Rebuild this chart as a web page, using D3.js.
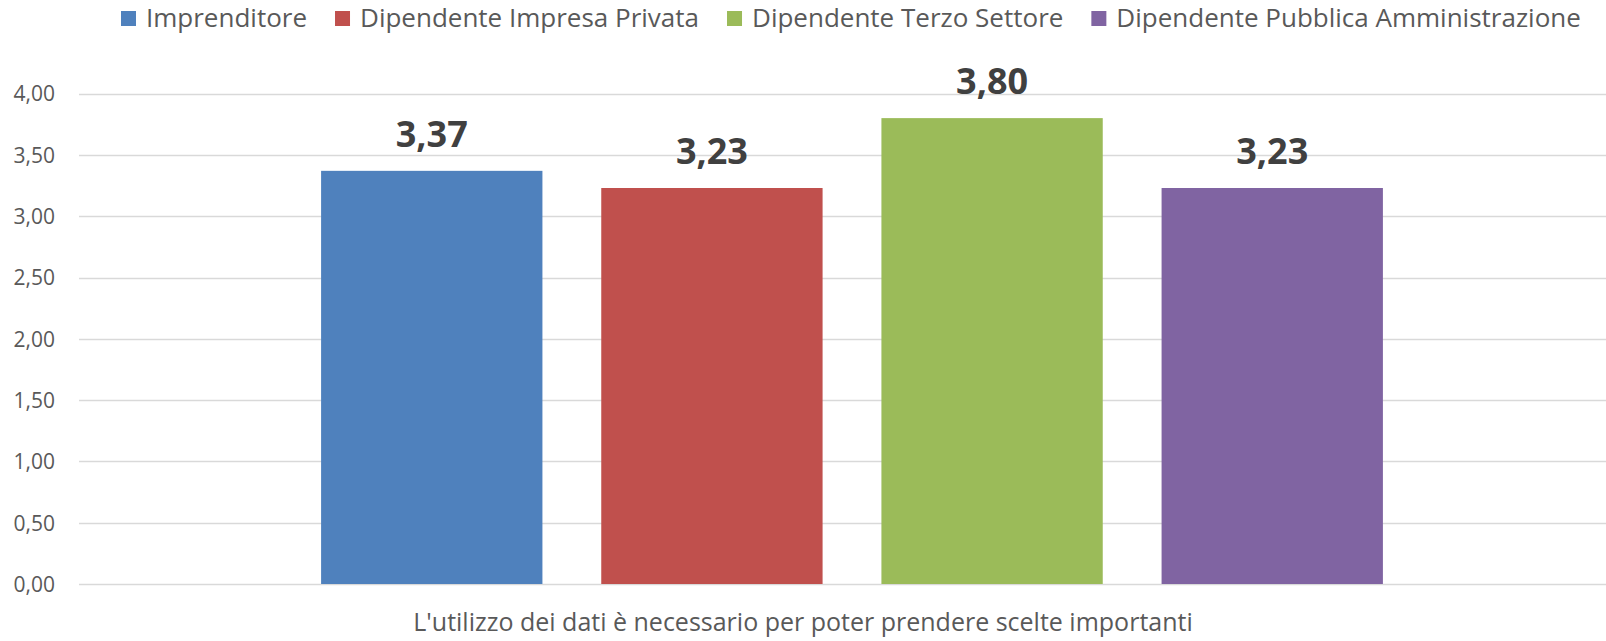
<!DOCTYPE html>
<html>
<head>
<meta charset="utf-8">
<script src="https://cdn.jsdelivr.net/npm/d3@7"></script>
<style>
  body { margin: 0; background: #fff; }
  svg text { font-family: "Open Sans", sans-serif; }
</style>
</head>
<body>
<div id="chart"></div>
<script>
// data
var categories = ["L'utilizzo dei dati è necessario per poter prendere scelte importanti"];
var series = ["Imprenditore", "Dipendente Impresa Privata", "Dipendente Terzo Settore", "Dipendente Pubblica Amministrazione"];
var values = [3.37, 3.23, 3.80, 3.23];
var colors = ["#4F81BD", "#C0504D", "#9BBB59", "#8064A2"];
var yTicks = [0, 0.5, 1, 1.5, 2, 2.5, 3, 3.5, 4];

var width = 1606, height = 641;
var fmt = function(v) { return d3.format(".2f")(v).replace(".", ","); };

var svg = d3.select("#chart").append("svg")
    .attr("width", width)
    .attr("height", height);

var y = d3.scaleLinear().domain([0, 4]).range([584, 93.6]);

var x0 = d3.scaleBand()
    .domain(categories)
    .range([79, 1625])
    .paddingInner(0)
    .paddingOuter(0.228);

var x1 = d3.scaleBand()
    .domain(series)
    .range([0, x0.bandwidth()])
    .paddingInner(0.21)
    .paddingOuter(0);

// gridlines
svg.append("g")
    .selectAll("line")
    .data(yTicks)
    .enter()
    .append("line")
    .attr("x1", 79)
    .attr("x2", 1625)
    .attr("y1", function(d) { return Math.round(y(d)) + 0.5; })
    .attr("y2", function(d) { return Math.round(y(d)) + 0.5; })
    .attr("stroke", "#d9d9d9")
    .attr("stroke-width", 1.5);

// y axis labels
var yAxis = d3.axisLeft(y).tickValues(yTicks).tickFormat(fmt).tickSize(0).tickPadding(0);
var yg = svg.append("g")
    .attr("transform", "translate(55,0)")
    .call(yAxis);
yg.select(".domain").remove();
yg.selectAll("text")
    .attr("fill", "#595959")
    .style("font-size", "21px")
    .attr("dy", "0.35em");

// bars
var group = svg.append("g")
    .attr("transform", "translate(" + x0(categories[0]) + ",0)");

group.selectAll("rect")
    .data(series)
    .enter()
    .append("rect")
    .attr("x", function(d) { return x1(d); })
    .attr("width", x1.bandwidth())
    .attr("y", function(d, i) { return y(values[i]); })
    .attr("height", function(d, i) { return y(0) - y(values[i]); })
    .attr("fill", function(d, i) { return colors[i]; });

group.selectAll("text.val")
    .data(series)
    .enter()
    .append("text")
    .classed("val", true)
    .attr("x", function(d) { return x1(d) + x1.bandwidth() / 2; })
    .attr("y", function(d, i) { return y(values[i]) - 24; })
    .attr("text-anchor", "middle")
    .attr("fill", "#404040")
    .style("font-size", "36px")
    .style("font-weight", "bold")
    .text(function(d, i) { return fmt(values[i]); });

// category label under the axis
svg.append("text")
    .attr("x", width / 2)
    .attr("y", 631)
    .attr("text-anchor", "middle")
    .attr("fill", "#595959")
    .style("font-size", "25px")
    .text(categories[0]);

// legend
var legend = svg.append("g").attr("transform", "translate(121,0)");
var lx = 0;
series.forEach(function(s, i) {
    var item = legend.append("g").attr("transform", "translate(" + lx + ",0)");
    item.append("rect")
        .attr("x", 0)
        .attr("y", 11)
        .attr("width", 15)
        .attr("height", 15)
        .attr("fill", colors[i]);
    var t = item.append("text")
        .attr("x", 25)
        .attr("y", 27)
        .attr("fill", "#595959")
        .style("font-size", "26px")
        .text(s);
    lx += 25 + t.node().getComputedTextLength() + 28;
});
</script>
</body>
</html>
